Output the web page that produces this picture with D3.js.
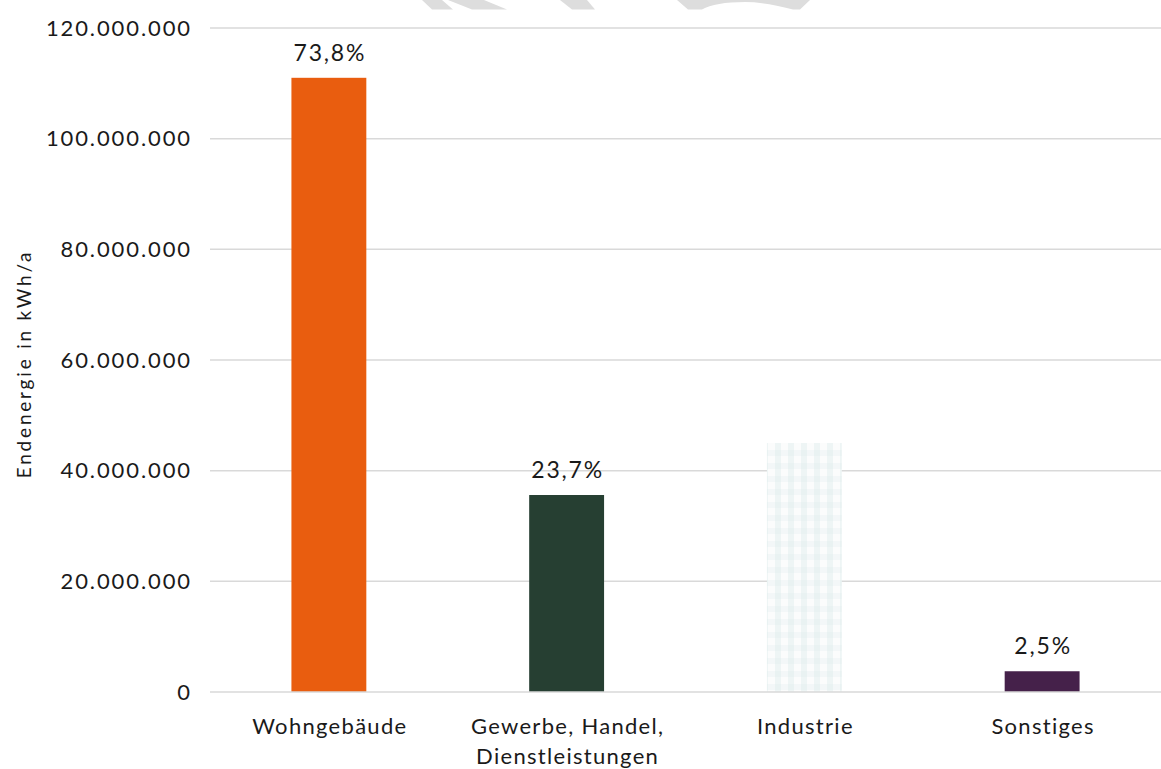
<!DOCTYPE html>
<html>
<head>
<meta charset="utf-8">
<script src="https://cdn.jsdelivr.net/npm/d3@7"></script>
<style>
  html, body { margin: 0; padding: 0; background: #ffffff; }
  svg { display: block; }
  text { font-family: Lato, "Open Sans", "Noto Sans", sans-serif; fill: #1a1a1a; }
</style>
</head>
<body>
<svg id="chart" width="1161" height="769"></svg>
<script>
// Endenergie by sector (kWh/a)
const categories = ["Wohngebäude", "Gewerbe, Handel, Dienstleistungen", "Industrie", "Sonstiges"];
const categoryLines = [["Wohngebäude"], ["Gewerbe, Handel,", "Dienstleistungen"], ["Industrie"], ["Sonstiges"]];
const values = [111000000, 35600000, 45000000, 3750000];
const shareLabels = ["73,8%", "23,7%", null, "2,5%"];
const barColors = ["#e95d0f", "#263f32", "url(#checks)", "#45214a"];
const yTicks = [0, 20000000, 40000000, 60000000, 80000000, 100000000, 120000000];
const yTitle = "Endenergie in kWh/a";

const svg = d3.select("#chart");
const margin = { left: 210, right: 0, top: 28, bottom: 77 };
const W = 1161, H = 769;

const x = d3.scaleBand()
  .domain(categories)
  .range([margin.left, W - margin.right])
  .paddingInner(0.685)
  .paddingOuter(0.3425);

const y = d3.scaleLinear()
  .domain([0, 120000000])
  .range([H - margin.bottom, margin.top]);

// light checkered fill
const defs = svg.append("defs");
const pat = defs.append("pattern")
  .attr("id", "checks")
  .attr("patternUnits", "userSpaceOnUse")
  .attr("width", 13).attr("height", 13)
  .attr("x", 768).attr("y", 443);
pat.append("rect").attr("width", 13).attr("height", 13).attr("fill", "#fbfcfc");
pat.append("rect").attr("x", 7).attr("width", 6).attr("height", 13).attr("fill", "#eef5f5");
pat.append("rect").attr("y", 7).attr("width", 13).attr("height", 6).attr("fill", "#f3f7f8");
pat.append("rect").attr("x", 7).attr("y", 7).attr("width", 6).attr("height", 6).attr("fill", "#e9f2f2");

// faint logo shapes along the top edge
const mark = svg.append("g").attr("fill", "#dddddd");
mark.append("path").attr("d", "M422,0 L442,0 L453,9.5 L432,9.5 Z");
mark.append("path").attr("d", "M448,0 L484,0 L507,9.5 L472,9.5 Z");
mark.append("path").attr("d", "M560,0 L587,0 L595,9.5 L572,9.5 Z");
mark.append("path").attr("d", "M677,0 L810,0 L800,9.5 L793,9.5 Q765,2 745,2 Q715,2 702,9.5 L688,9.5 Z");

// gridlines
svg.append("g")
  .selectAll("line")
  .data(yTicks.filter(d => d > 0))
  .join("line")
  .attr("x1", margin.left).attr("x2", W)
  .attr("y1", d => y(d)).attr("y2", d => y(d))
  .attr("stroke", "#d9d9d9").attr("stroke-width", 1.5);

// y tick labels
const yAxis = d3.axisLeft(y).tickValues(yTicks).tickSize(0).tickPadding(0)
  .tickFormat(d => d3.format(",")(d).replace(/,/g, "."));
const ya = svg.append("g").attr("transform", `translate(${192},0)`).call(yAxis);
ya.select(".domain").remove();
ya.selectAll("text").attr("font-size", 22).attr("fill", "#1a1a1a")
  .attr("font-family", "Lato, 'Open Sans', sans-serif").attr("letter-spacing", 1.9);

// bars
svg.append("g")
  .selectAll("rect")
  .data(categories)
  .join("rect")
  .attr("x", d => x(d))
  .attr("width", x.bandwidth())
  .attr("y", (d, i) => y(values[i]))
  .attr("height", (d, i) => y(0) - y(values[i]))
  .attr("fill", (d, i) => barColors[i]);

// baseline
svg.append("line")
  .attr("x1", margin.left).attr("x2", W)
  .attr("y1", y(0)).attr("y2", y(0))
  .attr("stroke", "#d9d9d9").attr("stroke-width", 1.5);

// share labels
svg.append("g")
  .selectAll("text")
  .data(categories.filter((d, i) => shareLabels[i] !== null))
  .join("text")
  .attr("x", d => x(d) + x.bandwidth() / 2 + 1)
  .attr("y", d => y(values[categories.indexOf(d)]) - 17)
  .attr("text-anchor", "middle")
  .attr("font-size", 23)
  .attr("letter-spacing", 1.8)
  .text(d => shareLabels[categories.indexOf(d)]);

// category labels
const cat = svg.append("g")
  .selectAll("text")
  .data(categories)
  .join("text")
  .attr("x", d => x(d) + x.bandwidth() / 2 + 1)
  .attr("y", 734)
  .attr("text-anchor", "middle")
  .attr("font-size", 22)
  .attr("letter-spacing", 1.3);
cat.selectAll("tspan")
  .data((d, i) => categoryLines[i])
  .join("tspan")
  .attr("x", function () { return d3.select(this.parentNode).attr("x"); })
  .attr("dy", (d, j) => j === 0 ? 0 : 30)
  .text(d => d);

// y axis title
svg.append("text")
  .attr("transform", `translate(31,${364}) rotate(-90)`)
  .attr("text-anchor", "middle")
  .attr("font-size", 19)
  .attr("letter-spacing", 2.8)
  .text(yTitle);
</script>
</body>
</html>
